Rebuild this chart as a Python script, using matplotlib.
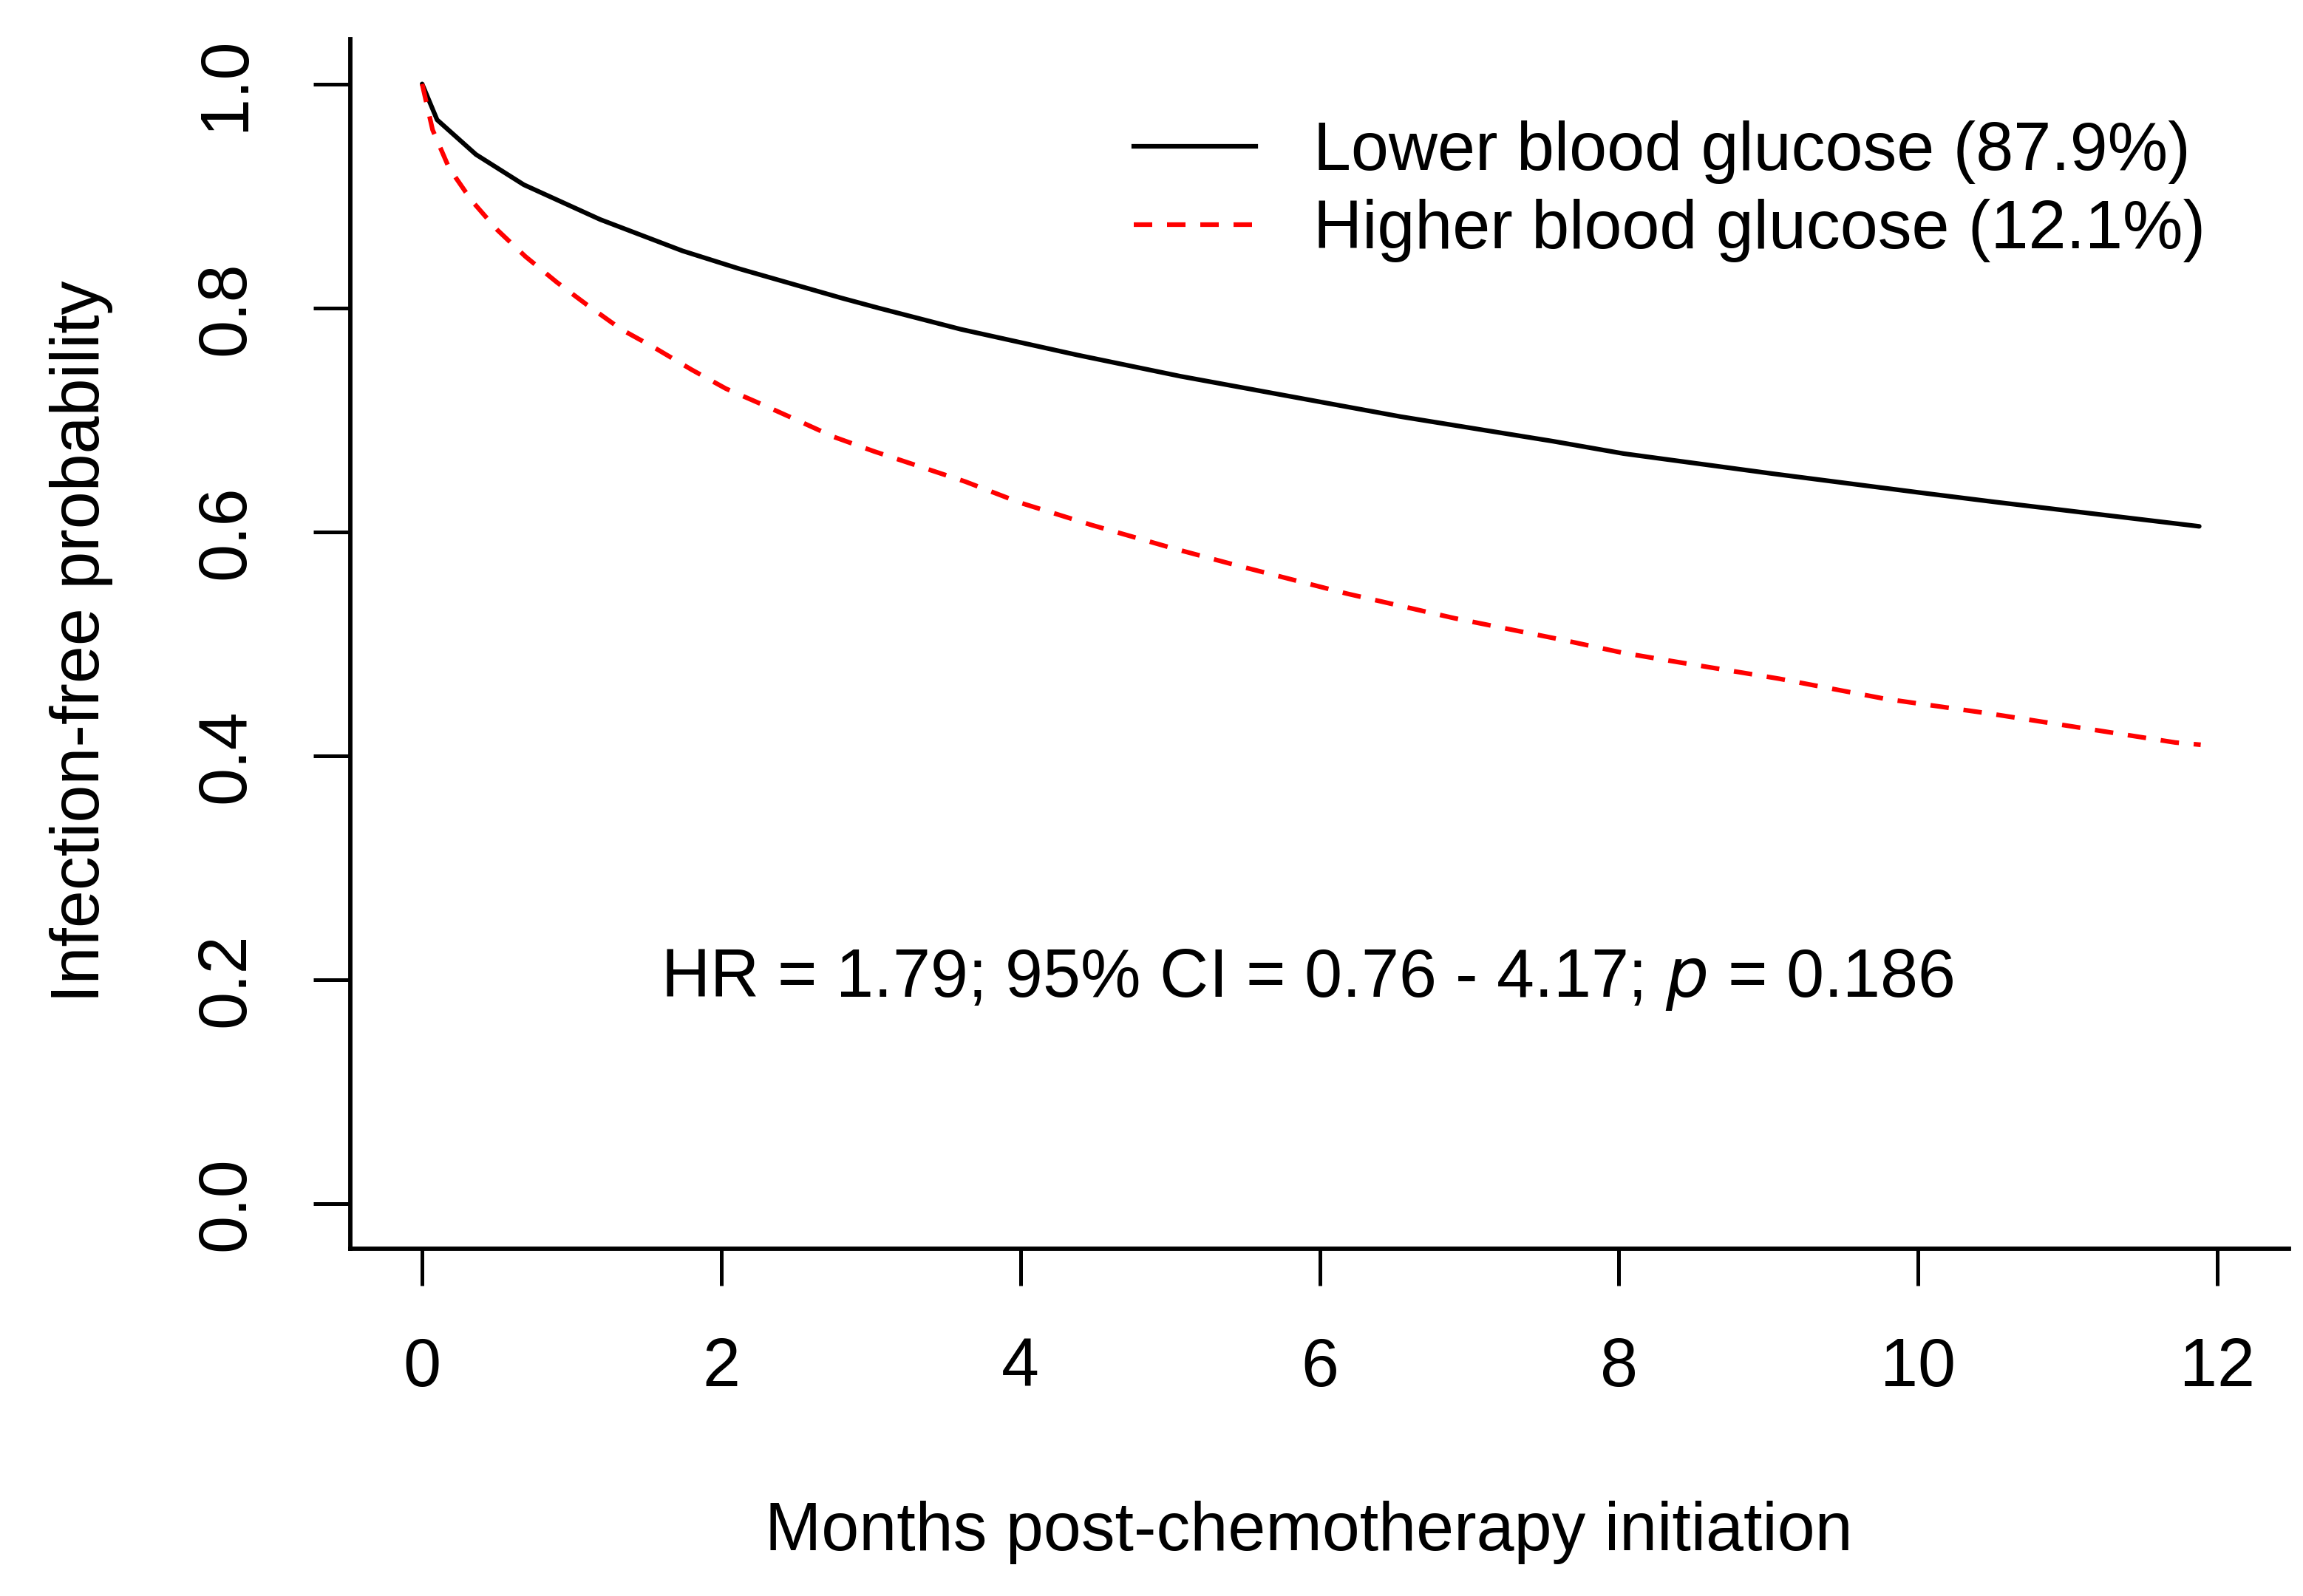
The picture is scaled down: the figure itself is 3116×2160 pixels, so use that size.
import matplotlib
matplotlib.use("Agg")
import matplotlib.pyplot as plt
from matplotlib.lines import Line2D

plt.rcParams['font.family'] = ['Liberation Sans', 'DejaVu Sans']

# ---- data ----
months_lower = [0, 0.1, 0.36, 0.68, 1.19, 1.74, 2.12, 2.80, 3.05, 3.60, 4.38, 5.07,
                6.54, 7.56, 8.03, 9.03, 10.02, 10.50, 11.88]
surv_lower = [1.0, 0.968, 0.937, 0.910, 0.879, 0.851, 0.835, 0.809, 0.800, 0.781, 0.758,
              0.739, 0.703, 0.681, 0.670, 0.652, 0.635, 0.627, 0.605]

months_higher = [0, 0.07, 0.18, 0.33, 0.50, 0.69, 0.90, 1.10, 1.33, 1.56, 1.80,
                 2.03, 2.27, 2.52, 2.75, 3.02, 3.63, 4.00, 4.48, 5.03, 5.45,
                 6.18, 6.90, 7.61, 8.03, 8.34, 9.07, 9.78, 10.47, 11.72, 11.89]
surv_higher = [1.0, 0.959, 0.925, 0.896, 0.870, 0.846, 0.823, 0.803, 0.781, 0.764,
               0.745, 0.728, 0.714, 0.699, 0.685, 0.672, 0.645, 0.626, 0.606,
               0.585, 0.570, 0.545, 0.523, 0.504, 0.492, 0.485, 0.469, 0.451,
               0.438, 0.412, 0.410]

legend_labels = ["Lower blood glucose (87.9%)", "Higher blood glucose (12.1%)"]
x_ticks = [0, 2, 4, 6, 8, 10, 12]
y_ticks = [0.0, 0.2, 0.4, 0.6, 0.8, 1.0]
y_tick_labels = ["0.0", "0.2", "0.4", "0.6", "0.8", "1.0"]
x_label = "Months post-chemotherapy initiation"
y_label = "Infection-free probability"

FS = 22
LW = 1.5
DASH = (0, (4, 3.2))

fig = plt.figure(figsize=(3116 / 300, 2160 / 300), dpi=300)
ax = fig.add_axes([474 / 3116, 1 - 1690 / 2160, (3097 - 474) / 3116, (1690 - 53) / 2160])

ax.plot(months_lower, surv_lower, color='black', lw=LW, solid_joinstyle='round',
        solid_capstyle='round')
ax.plot(months_higher, surv_higher, color='red', lw=LW, linestyle=DASH)

ax.set_xlim(-0.48, 12.48)
ax.set_ylim(-0.04, 1.04)

for s in ['top', 'right']:
    ax.spines[s].set_visible(False)
for s in ['left', 'bottom']:
    ax.spines[s].set_linewidth(1.4)

ax.set_xticks(x_ticks)
ax.set_xticklabels([str(v) for v in x_ticks], fontsize=FS)
ax.set_yticks(y_ticks)
ax.set_yticklabels(y_tick_labels, fontsize=FS, rotation=90, va='center')
ax.tick_params(axis='both', length=12, width=1.2, direction='out')
ax.tick_params(axis='x', pad=16.5)
ax.tick_params(axis='y', pad=18)

ax.set_xlabel(x_label, fontsize=FS, va='center')
ax.xaxis.set_label_coords(0.4945, -(2074 - 1690) / 1637)
ax.set_ylabel(y_label, fontsize=FS, va='center')
ax.yaxis.set_label_coords(-(474 - 110) / 2623, 0.502)

handles = [Line2D([], [], color='black', lw=LW),
           Line2D([], [], color='red', lw=LW, linestyle=DASH)]
ax.legend(handles, legend_labels, loc='upper right', bbox_to_anchor=(0.971, 0.955),
          frameon=False, fontsize=FS, handlelength=1.8, handletextpad=0.85,
          labelspacing=0.22, borderaxespad=0.0)

ax.text(5.92, 0.2, "HR = 1.79; 95% CI = 0.76 - 4.17; $\\it{p}$ = 0.186",
        fontsize=FS, ha='center', va='center')

fig.savefig("out.png", dpi=300)
